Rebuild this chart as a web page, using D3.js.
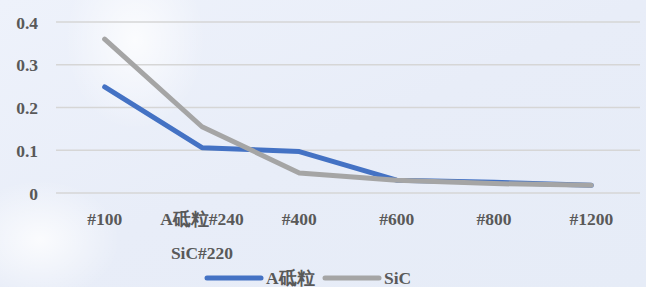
<!DOCTYPE html>
<html><head><meta charset="utf-8">
<script src="https://cdn.jsdelivr.net/npm/d3@7"></script>
<style>
html,body{margin:0;padding:0;}
body{width:646px;height:287px;overflow:hidden;}
svg{display:block;}
</style></head>
<body>
<svg id="chart" width="646" height="287"></svg>
<script>
const categories = ["#100", "A砥粒#240\nSiC#220", "#400", "#600", "#800", "#1200"];
const seriesNames = ["A砥粒", "SiC"];
const aValues = [0.248, 0.106, 0.097, 0.030, 0.025, 0.018];
const sicValues = [0.360, 0.155, 0.047, 0.030, 0.022, 0.018];
const yTicks = [0, 0.1, 0.2, 0.3, 0.4];
const colors = ["#4472C4", "#A5A5A5"];

const svg = d3.select("#chart");
const W = 646, H = 287;
const font = "'Liberation Serif','DejaVu Serif',serif";
const fs = 17.5;

// background
const defs = svg.append("defs");
const lg = defs.append("linearGradient").attr("id","bg").attr("x1",0).attr("y1",0).attr("x2",1).attr("y2",1);
lg.append("stop").attr("offset",0).attr("stop-color","#eef2fb");
lg.append("stop").attr("offset",0.5).attr("stop-color","#e8edf8");
lg.append("stop").attr("offset",1).attr("stop-color","#e6ecf7");
svg.append("rect").attr("width",W).attr("height",H).attr("fill","url(#bg)");
const rg = defs.append("radialGradient").attr("id","glow");
rg.append("stop").attr("offset",0).attr("stop-color","#ffffff").attr("stop-opacity",0.8);
rg.append("stop").attr("offset",1).attr("stop-color","#ffffff").attr("stop-opacity",0);
svg.append("ellipse").attr("cx",135).attr("cy",40).attr("rx",70).attr("ry",90).attr("fill","url(#glow)");
svg.append("ellipse").attr("cx",40).attr("cy",240).attr("rx",80).attr("ry",60).attr("fill","url(#glow)");

const m = {left:56, right:6};
const x = d3.scaleBand().domain(categories).range([m.left, W - m.right]);
const y = d3.scaleLinear().domain([0, 0.4]).range([193, 22]);

// gridlines
svg.append("g").selectAll("line").data(yTicks).join("line")
  .attr("x1", m.left).attr("x2", 640)
  .attr("y1", d => y(d)).attr("y2", d => y(d))
  .attr("stroke", "#d6d6d6").attr("stroke-width", 1.3);

// y axis labels
const yAxis = d3.axisLeft(y).tickValues(yTicks).tickSize(0).tickPadding(0)
  .tickFormat(d => d === 0 ? "0" : d3.format(".1f")(d));
const yg = svg.append("g").attr("transform", "translate(38,0)").call(yAxis);
yg.select(".domain").remove();
yg.selectAll("text").attr("font-family", font).attr("font-weight","bold")
  .attr("font-size", fs).attr("fill", "#595959").attr("dy","0.35em");

// x axis labels
const xAxis = d3.axisBottom(x).tickSize(0).tickPadding(0).tickFormat("");
const xg = svg.append("g").call(xAxis);
xg.select(".domain").remove();
xg.selectAll(".tick").each(function(d){
  const lines = d.split("\n");
  const t = d3.select(this).append("text")
    .attr("font-family", font).attr("font-weight","bold").attr("font-size", fs)
    .attr("fill", "#595959").attr("text-anchor","middle");
  lines.forEach((l,i) => t.append("tspan").attr("x",0).attr("y", 225 + i*34).text(l));
});

// lines
const line = d3.line().x((d,i) => x(categories[i]) + x.bandwidth()/2).y(d => y(d));
[aValues, sicValues].forEach((vals, k) => {
  svg.append("path").datum(vals).attr("d", line)
    .attr("fill","none").attr("stroke", colors[k]).attr("stroke-width", 5)
    .attr("stroke-linejoin","round").attr("stroke-linecap","round");
});

// legend
const legendItems = [{x:207, name:seriesNames[0], c:colors[0]}, {x:325, name:seriesNames[1], c:colors[1]}];
const leg = svg.append("g");
legendItems.forEach(it => {
  leg.append("line").attr("x1", it.x).attr("x2", it.x+54).attr("y1", 278).attr("y2", 278)
    .attr("stroke", it.c).attr("stroke-width", 5).attr("stroke-linecap","round");
  leg.append("text").attr("x", it.x+59).attr("y", 278).attr("dy","0.35em")
    .attr("font-family", font).attr("font-weight","bold").attr("font-size", fs)
    .attr("fill","#595959").text(it.name);
});
</script>
</body></html>
